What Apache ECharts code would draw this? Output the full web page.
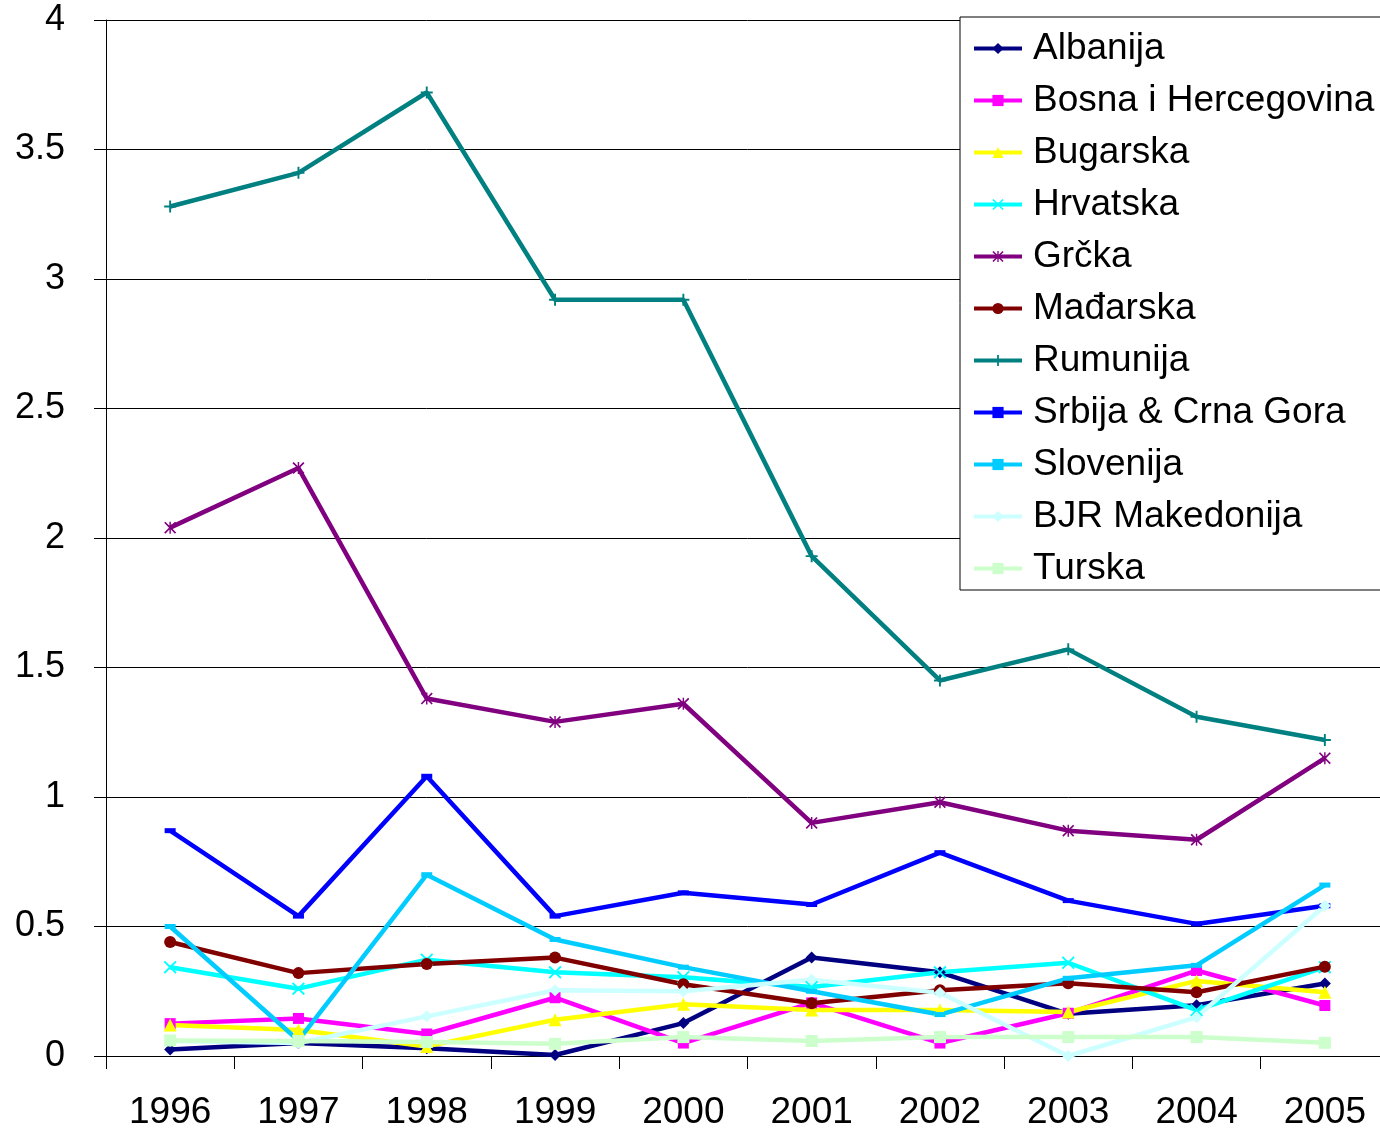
<!DOCTYPE html>
<html>
<head>
<meta charset="utf-8">
<script src="https://cdn.jsdelivr.net/npm/echarts@6/dist/echarts.min.js"></script>
<style>
html,body{margin:0;padding:0;background:#fff;overflow:hidden;width:1380px;height:1131px;}
#chart{width:1400px;height:1131px;}
</style>
</head>
<body>
<div id="chart"></div>
<script>
var years = ['1996','1997','1998','1999','2000','2001','2002','2003','2004','2005'];
var yTicks = [0, 0.5, 1, 1.5, 2, 2.5, 3, 3.5, 4];

var albanija      = [0.025, 0.05, 0.03, 0.004, 0.127, 0.38, 0.323, 0.163, 0.196, 0.28];
var bosna         = [0.125, 0.145, 0.085, 0.225, 0.05, 0.205, 0.05, 0.165, 0.33, 0.195];
var bugarska      = [0.12, 0.10, 0.037, 0.14, 0.20, 0.178, 0.178, 0.17, 0.29, 0.246];
var hrvatska      = [0.343, 0.26, 0.372, 0.323, 0.304, 0.266, 0.323, 0.36, 0.177, 0.343];
var grcka         = [2.04, 2.27, 1.38, 1.29, 1.36, 0.90, 0.98, 0.87, 0.835, 1.15];
var madjarska     = [0.44, 0.32, 0.355, 0.38, 0.277, 0.204, 0.254, 0.281, 0.246, 0.345];
var rumunija      = [3.28, 3.41, 3.72, 2.92, 2.92, 1.93, 1.45, 1.57, 1.31, 1.22];
var srbija        = [0.87, 0.54, 1.08, 0.54, 0.63, 0.585, 0.785, 0.60, 0.51, 0.58];
var slovenija     = [0.50, 0.06, 0.70, 0.45, 0.343, 0.25, 0.16, 0.30, 0.35, 0.66];
var makedonija    = [0.058, 0.05, 0.153, 0.254, 0.25, 0.294, 0.244, 0.0, 0.15, 0.58];
var turska        = [0.06, 0.058, 0.054, 0.047, 0.073, 0.058, 0.073, 0.073, 0.073, 0.051];

var names = ['Albanija','Bosna i Hercegovina','Bugarska','Hrvatska','Grčka','Mađarska','Rumunija','Srbija & Crna Gora','Slovenija','BJR Makedonija','Turska'];
var datasets = [albanija, bosna, bugarska, hrvatska, grcka, madjarska, rumunija, srbija, slovenija, makedonija, turska];
var colors = ['#000080','#FF00FF','#FFFF00','#00FFFF','#800080','#800000','#008080','#0000FF','#00CCFF','#CCFFFF','#CCFFCC'];

var PLUS = 'path://M4.2,0 H5.8 V4.2 H10 V5.8 H5.8 V10 H4.2 V5.8 H0 V4.2 H4.2 Z';
var XMARK = 'path://M0,1 L1,0 L5,4 L9,0 L10,1 L6,5 L10,9 L9,10 L5,6 L1,10 L0,9 L4,5 Z';
var STAR = 'path://M0,1 L1,0 L5,4 L9,0 L10,1 L6,5 L10,9 L9,10 L5,6 L1,10 L0,9 L4,5 Z M4.4,0 H5.6 V10 H4.4 Z';
var DASH = 'path://M0,0 H10 V4 H0 Z';
var symbols = ['diamond','rect','triangle',XMARK,STAR,'circle',PLUS,DASH,DASH,'diamond','rect'];
var sizes = [12, 11, 13, 13, 12, 12, 12, [11,5], [11,5], 12, 12];

var font = '"Liberation Sans", Arial, sans-serif';

var series = names.map(function(n, i){
  return {
    name: n,
    type: 'line',
    data: datasets[i],
    symbol: symbols[i],
    symbolSize: sizes[i],
    showAllSymbol: true,
    lineStyle: {width: 4.5, color: colors[i]},
    itemStyle: {color: colors[i], borderWidth: 0},
    emphasis: {disabled: true}
  };
});

var chart = echarts.init(document.getElementById('chart'), null, {renderer: 'canvas'});
chart.setOption({
  animation: false,
  backgroundColor: '#ffffff',
  color: colors,
  grid: {left: 106, top: 20, width: 1283, height: 1039, containLabel: false},
  legend: {
    orient: 'vertical',
    left: 960,
    top: 17,
    padding: [13, 10, 3, 12],
    itemGap: 15,
    itemWidth: 48,
    itemHeight: 14,
    backgroundColor: '#ffffff',
    borderColor: '#000000',
    borderWidth: 1,
    borderRadius: 0,
    lineStyle: {width: 4},
    textStyle: {fontFamily: font, fontSize: 37, color: '#000', lineHeight: 36, padding: [0,0,0,6]},
    data: names
  },
  xAxis: {
    type: 'category',
    data: years,
    boundaryGap: true,
    axisLine: {lineStyle: {color: '#000', width: 1}},
    axisTick: {show: true, length: 13, lineStyle: {color: '#000'}},
    axisLabel: {fontFamily: font, fontSize: 37, color: '#000', margin: 38},
    splitLine: {show: false}
  },
  yAxis: {
    type: 'value',
    min: 0,
    max: 4,
    interval: 0.5,
    axisLine: {show: true, lineStyle: {color: '#000', width: 1}},
    axisTick: {show: true, length: 12, lineStyle: {color: '#000'}},
    axisLabel: {fontFamily: font, fontSize: 36, color: '#000', margin: 41,
      formatter: function(v){ return yTicks.indexOf(v) >= 0 ? String(v) : ''; }},
    splitLine: {show: true, lineStyle: {color: '#000', width: 1}}
  },
  series: series
});
</script>
</body>
</html>
